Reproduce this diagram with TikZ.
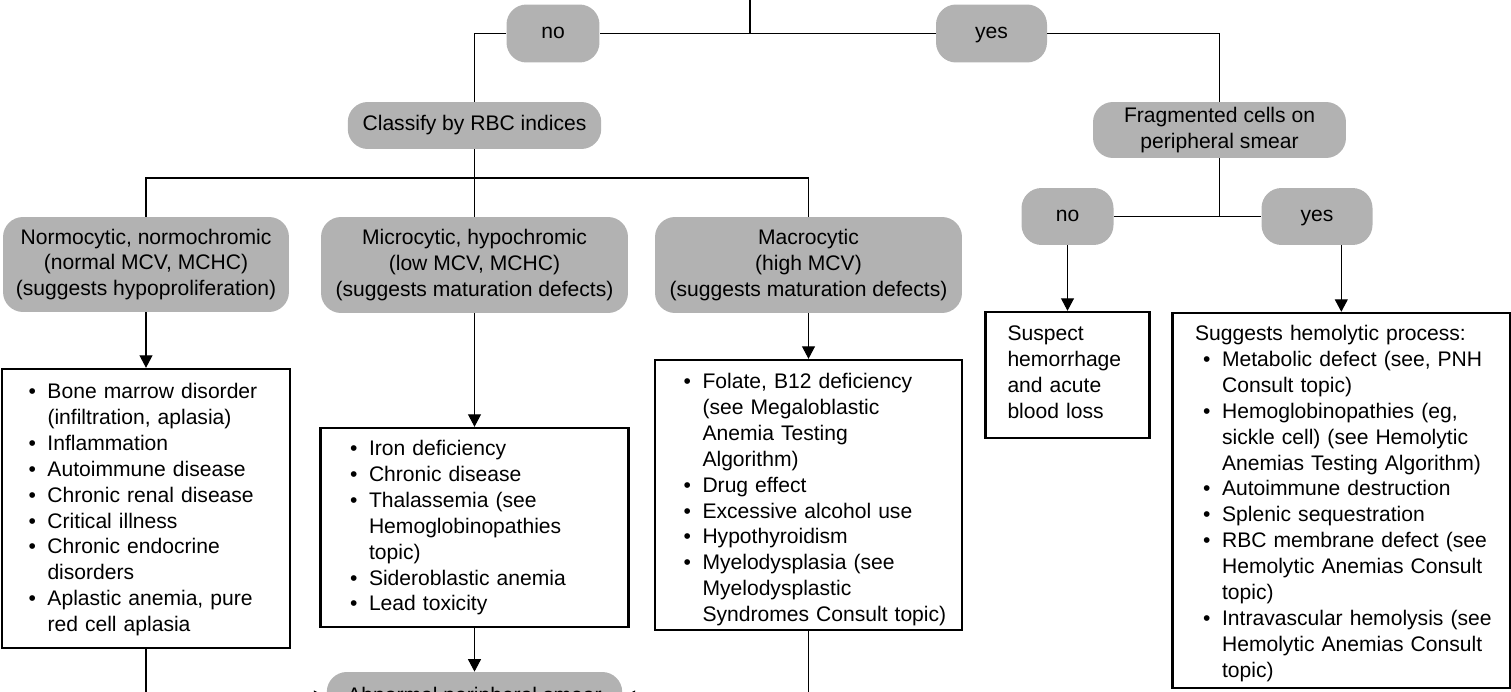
\documentclass[tikz,border=0pt]{standalone}
\usepackage{fontspec}
\setmainfont{Liberation Sans}
\usetikzlibrary{arrows.meta}
\newcommand{\bitem}[1]{\mbox{\makebox[0.38cm][l]{\textbullet}#1}}
\newcommand{\bcont}[1]{\mbox{\hspace*{0.38cm}#1}}
\begin{document}
\begin{tikzpicture}[x=0.02cm,y=-0.02cm,
    every node/.style={font=\fontsize{12pt}{14.74pt}\selectfont},
    pill/.style={fill=gray!60,rounded corners=0.4cm,align=center,inner sep=0pt},
    answer/.style={pill,text height=0.72em,text depth=0.2em},
    list/.style={draw,line width=1.4pt,align=left,inner xsep=0.04cm,inner ysep=0pt,text height=0pt},
    link/.style={line width=0.6pt},
    arr/.style={link,-{Triangle[length=0.25cm,width=0.26cm]}}]
    \useasboundingbox (0,0) rectangle (1511,692);
    \clip (0,0) rectangle (1511,692);
    \coordinate (top) at (750,0);
    \coordinate (split) at (474.5,178);
    \node[answer,minimum width=1.86cm,minimum height=1.16cm] (no1) at (553,33.5) {no};
    \node[answer,minimum width=2.22cm,minimum height=1.16cm] (yes1) at (991.5,33.5) {yes};
    \node[pill,minimum width=5.07cm,minimum height=0.94cm] (classify) at (474.5,125.5) {Classify by RBC indices};
    \node[pill,minimum width=5.06cm,minimum height=1.12cm] (frag) at (1219.5,130) {Fragmented cells on\\peripheral smear};
    \node[pill,minimum width=5.72cm,minimum height=1.9cm] (normo) at (146,264.5) {Normocytic, normochromic\\(normal MCV, MCHC)\\(suggests hypoproliferation)};
    \node[pill,minimum width=6.14cm,minimum height=1.92cm] (micro) at (474.5,265) {Microcytic, hypochromic\\(low MCV, MCHC)\\(suggests maturation defects)};
    \node[pill,minimum width=6.14cm,minimum height=1.92cm] (macro) at (808.5,265) {Macrocytic\\(high MCV)\\(suggests maturation defects)};
    \node[answer,minimum width=1.84cm,minimum height=1.14cm] (no2) at (1067.5,216.5) {no};
    \node[answer,minimum width=2.22cm,minimum height=1.14cm] (yes2) at (1317,216.5) {yes};
    \node[pill,minimum width=5.91cm,minimum height=1cm] (abnormal) at (474.5,697) {Abnormal peripheral smear};
    % result boxes
    \node[list,text width=5.68cm,text depth=4.4cm,minimum height=5.58cm] (normolist) at (146,508.5) {\leftskip=0.49cm\relax
        \bitem{Bone marrow disorder}\\ \bcont{(infiltration, aplasia)}\\ \bitem{Inflammation}\\
        \bitem{Autoimmune disease}\\ \bitem{Chronic renal disease}\\ \bitem{Critical illness}\\
        \bitem{Chronic endocrine}\\ \bcont{disorders}\\ \bitem{Aplastic anemia, pure}\\ \bcont{red cell aplasia}\par};
    \node[list,text width=6.08cm,text depth=2.88cm,minimum height=3.98cm] (microlist) at (474.5,527.5) {\leftskip=0.55cm\relax
        \bitem{Iron deficiency}\\ \bitem{Chronic disease}\\ \bitem{Thalassemia (see}\\
        \bcont{Hemoglobinopathies}\\ \bcont{topic)}\\ \bitem{Sideroblastic anemia}\\ \bitem{Lead toxicity}\par};
    \node[list,text width=6.06cm,text depth=4.26cm,minimum height=5.4cm] (macrolist) at (808.5,495) {\leftskip=0.53cm\relax
        \bitem{Folate, B12 deficiency}\\ \bcont{(see Megaloblastic}\\ \bcont{Anemia Testing}\\ \bcont{Algorithm)}\\
        \bitem{Drug effect}\\ \bitem{Excessive alcohol use}\\ \bitem{Hypothyroidism}\\
        \bitem{Myelodysplasia (see}\\ \bcont{Myelodysplastic}\\ \bcont{Syndromes Consult topic)}\par};
    \node[list,text width=3.2cm,text depth=1.38cm,minimum height=2.52cm] (suspect) at (1067.5,375) {\leftskip=0.4cm\relax
        Suspect\\ hemorrhage\\ and acute\\ blood loss\par};
    \node[list,text width=6.67cm,text depth=6.4cm,minimum height=7.5cm] (hemolist) at (1341.3,500.5) {\leftskip=0.57cm\relax
        \mbox{\hspace*{-0.16cm}Suggests hemolytic process:}\\
        \bitem{Metabolic defect (see, PNH}\\ \bcont{Consult topic)}\\
        \bitem{Hemoglobinopathies (eg,}\\ \bcont{sickle cell) (see Hemolytic}\\ \bcont{Anemias Testing Algorithm)}\\
        \bitem{Autoimmune destruction}\\ \bitem{Splenic sequestration}\\
        \bitem{RBC membrane defect (see}\\ \bcont{Hemolytic Anemias Consult}\\ \bcont{topic)}\\
        \bitem{Intravascular hemolysis (see}\\ \bcont{Hemolytic Anemias Consult}\\ \bcont{topic)}\par};
    % connectors
    \draw[link] (top) |- (no1.east);
    \draw[link] (top) |- (yes1.west);
    \draw[link] (no1.west) -| (classify.north);
    \draw[link] (yes1.east) -| (frag.north);
    \draw[link] (classify.south) -- (micro.north);
    \draw[link] (normo.north) |- (split) -| (macro.north);
    \draw[link] (frag.south) -- (frag.south |- no2.east);
    \draw[link] (no2.east) -- (yes2.west);
    \draw[arr] (normo.south) -- (normolist.north);
    \draw[arr] (micro.south) -- (microlist.north);
    \draw[arr] (macro.south) -- (macrolist.north);
    \draw[arr] (no2.south) -- (suspect.north);
    \draw[arr] (yes2.south -| hemolist.north) -- (hemolist.north);
    \draw[arr] (microlist.south) -- (abnormal.north);
    \draw[arr] (normolist.south) |- (abnormal.west);
    \draw[arr] (macrolist.south) |- (abnormal.east);
\end{tikzpicture}
\end{document}
